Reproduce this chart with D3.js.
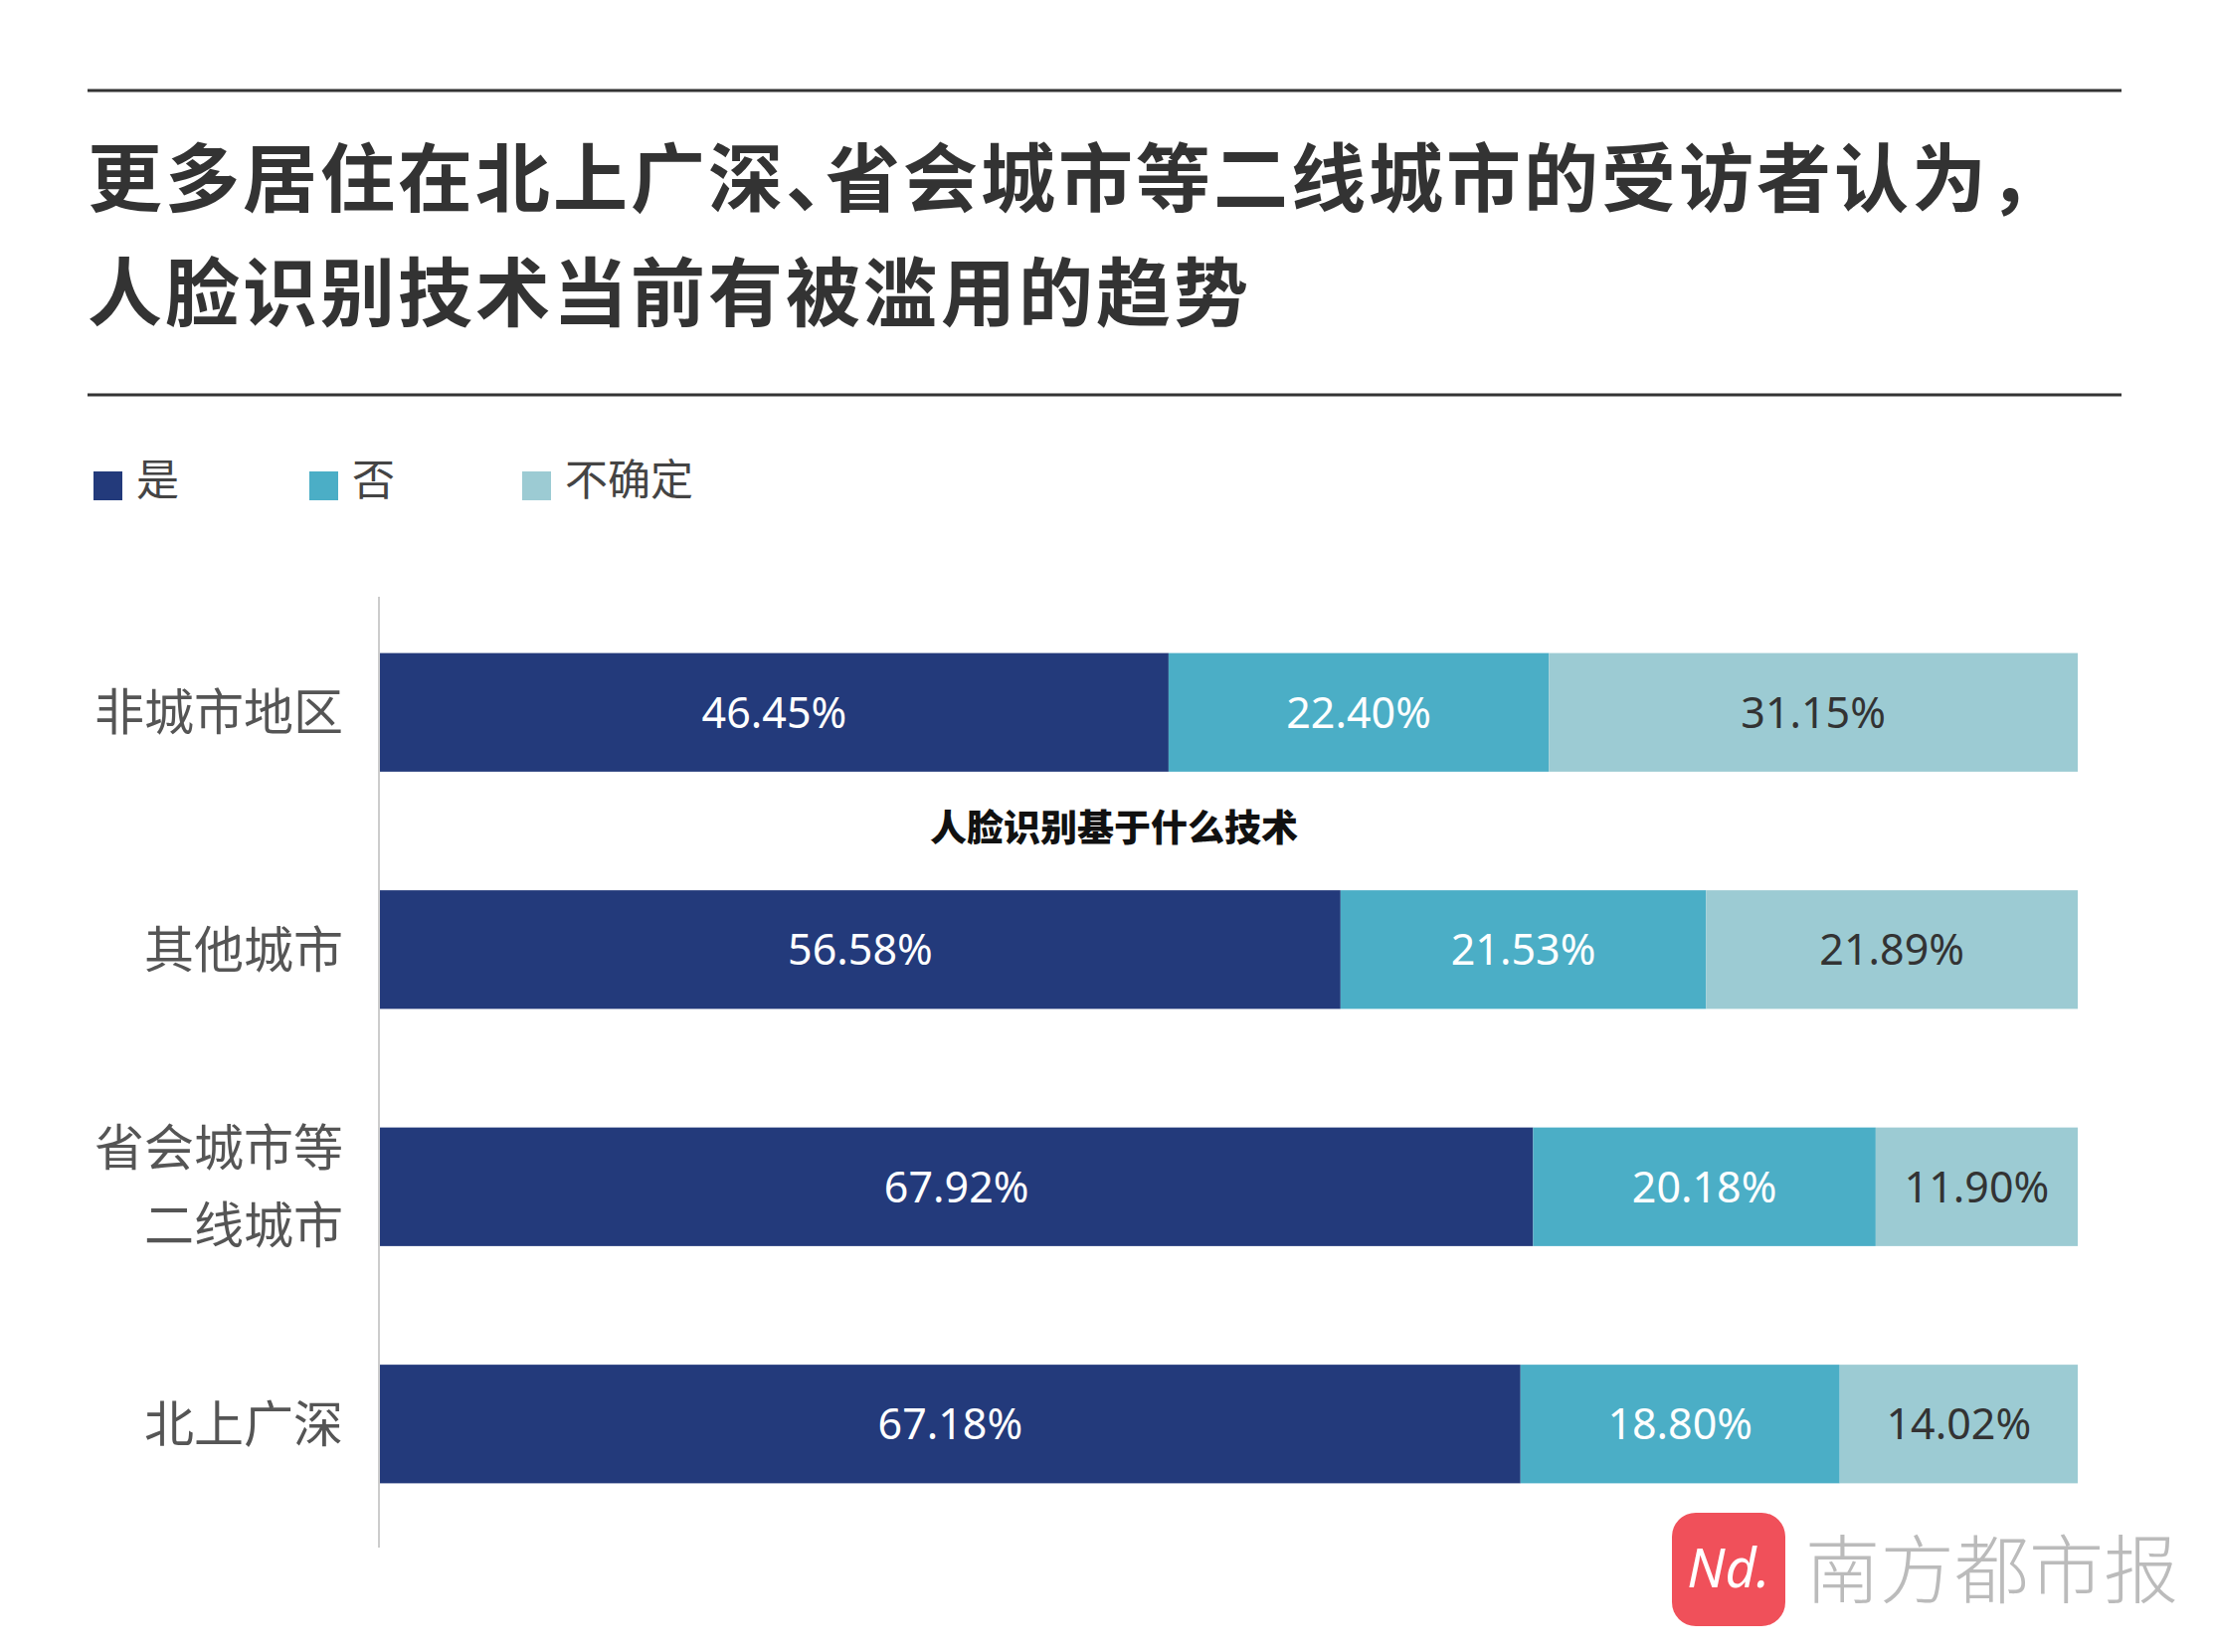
<!DOCTYPE html><html><head><meta charset="utf-8"><script src="https://cdn.jsdelivr.net/npm/d3@7"></script>
<style>body{margin:0;background:#fff}svg{font-family:"Noto Sans CJK SC","Noto Sans",sans-serif}</style></head><body>
<svg id="c" width="2226" height="1661"></svg>
<script>
const categories=["非城市地区","其他城市","省会城市等\n二线城市","北上广深"];
const seriesNames=["是","否","不确定"];
const yes=[46.45,56.58,67.92,67.18];
const no=[22.40,21.53,20.18,18.80];
const unsure=[31.15,21.89,11.90,14.02];
const colors=["#233a7b","#4baec6","#9ccbd3"];
const labelColors=["#fff","#fff","#333"];
const svg=d3.select("#c");
svg.append("line").attr("x1",88).attr("x2",2133).attr("y1",91).attr("y2",91).attr("stroke","#333").attr("stroke-width",3);
svg.append("line").attr("x1",88).attr("x2",2133).attr("y1",397).attr("y2",397).attr("stroke","#333").attr("stroke-width",3);
const t1=svg.append("text").attr("x",88).attr("y",207).attr("font-size",75).attr("letter-spacing",3).attr("font-weight",700).attr("fill","#333");
t1.append("tspan").text("更多居住在北上广深、");
t1.append("tspan").attr("dx",-38).text("省会城市等二线城市的受访者认为，");
svg.append("text").attr("x",88).attr("y",322).attr("font-size",75).attr("letter-spacing",3).attr("font-weight",700).attr("fill","#333").text("人脸识别技术当前有被滥用的趋势");
const lx=[94,311,525];
seriesNames.forEach((n,i)=>{
 svg.append("rect").attr("x",lx[i]).attr("y",474).attr("width",29).attr("height",29).attr("fill",colors[i]);
 svg.append("text").attr("x",lx[i]+43).attr("y",498).attr("font-size",43).attr("fill","#444").text(n);
});
const x=d3.scaleLinear().domain([0,100]).range([382,2089]);
const y=d3.scaleBand().domain(categories).range([597,1551]).paddingInner(0.5).paddingOuter(0.25);
svg.append("line").attr("x1",381).attr("x2",381).attr("y1",600).attr("y2",1556).attr("stroke","#ccc").attr("stroke-width",2);
const series=[yes,no,unsure];
categories.forEach((c,ci)=>{
 let acc=0;
 series.forEach((s,si)=>{
  const v=s[ci];const x0=x(acc),x1=x(acc+v);acc+=v;
  svg.append("rect").attr("x",x0).attr("y",y(c)).attr("width",x1-x0).attr("height",y.bandwidth()).attr("fill",colors[si]);
  svg.append("text").attr("x",(x0+x1)/2).attr("y",y(c)+y.bandwidth()/2).attr("dy","0.36em").attr("text-anchor","middle")
   .attr("font-size",43).attr("font-family","'Noto Sans',sans-serif").attr("fill",labelColors[si]).text(v.toFixed(2)+"%");
 });
 const lines=c.split("\n");
 lines.forEach((l,li)=>svg.append("text").attr("x",345).attr("y",y(c)+y.bandwidth()/2+(li-(lines.length-1)/2)*78).attr("dy","0.36em")
  .attr("text-anchor","end").attr("font-size",50).attr("fill","#555").text(l));
});
svg.append("text").attr("x",1120).attr("y",846).attr("text-anchor","middle").attr("font-size",37).attr("font-weight",900).attr("fill","#111").text("人脸识别基于什么技术");
svg.append("rect").attr("x",1681).attr("y",1521).attr("width",114).attr("height",114).attr("rx",24).attr("fill","#f0505a");
svg.append("text").attr("x",1738).attr("y",1596).attr("text-anchor","middle").attr("font-size",54).attr("font-style","italic").attr("fill","#fff").attr("font-family","'Noto Sans',sans-serif").text("Nd.");
svg.append("text").attr("x",1815).attr("y",1606).attr("font-size",75).attr("fill","#bbb").attr("font-weight",300).text("南方都市报");
</script></body></html>
